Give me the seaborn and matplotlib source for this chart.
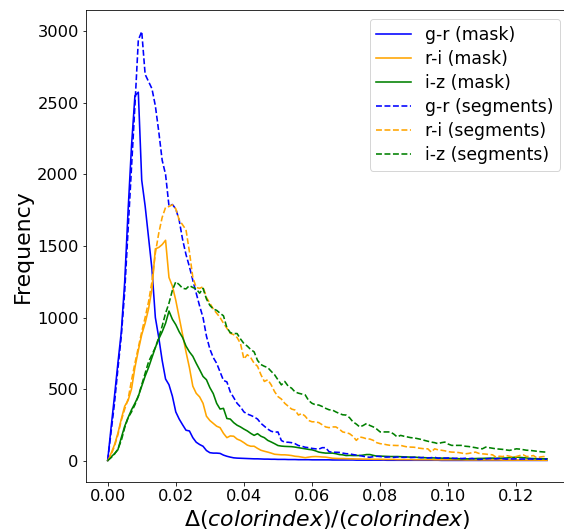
import matplotlib
matplotlib.use("Agg")
import matplotlib.pyplot as plt
import numpy as np
import pandas as pd
import seaborn as sns

# bin positions of the colour-index error histograms
ratio = np.round(np.arange(130) * 0.001, 3)

gr_mask = [
    0, 230, 450, 680, 900, 1250, 1750, 2200, 2550, 2575,
    1960, 1780, 1560, 1340, 1000, 860, 700, 570, 530, 450,
    340, 290, 250, 212, 207, 160, 128, 112, 100, 70,
    55, 52, 52, 50, 38, 30, 24, 19, 17, 16,
    15, 14, 13, 12, 12, 11, 10, 10, 9, 9,
    8, 8, 8, 7, 7, 7, 6, 6, 6, 6,
    5, 5, 5, 5, 5, 5, 4, 4, 4, 4,
    4, 4, 4, 3, 3, 3, 3, 3, 3, 3,
    3, 3, 2, 2, 2, 2, 2, 2, 2, 2,
    2, 2, 2, 2, 2, 2, 2, 2, 1, 1,
    1, 1, 1, 1, 1, 1, 1, 1, 1, 1,
    1, 1, 1, 1, 1, 1, 1, 1, 1, 1,
    1, 1, 1, 1, 1, 1, 1, 1, 1, 1,
]
ri_mask = [
    0, 50, 110, 190, 290, 380, 420, 500, 650, 770,
    880, 960, 1060, 1200, 1480, 1490, 1510, 1540, 1280, 1220,
    1120, 1000, 880, 760, 650, 520, 470, 445, 400, 310,
    280, 260, 240, 230, 190, 160, 172, 170, 150, 140,
    125, 108, 100, 100, 85, 72, 65, 59, 52, 44,
    42, 40, 40, 38, 35, 30, 28, 24, 20, 24,
    27, 28, 27, 25, 24, 20, 16, 15, 14, 14,
    13, 12, 12, 11, 11, 10, 10, 10, 9, 9,
    9, 8, 8, 8, 8, 7, 7, 7, 7, 7,
    6, 6, 6, 6, 6, 6, 5, 5, 5, 5,
    5, 5, 5, 5, 5, 4, 4, 4, 4, 4,
    4, 4, 4, 4, 4, 4, 3, 3, 3, 3,
    3, 3, 3, 3, 3, 3, 3, 2, 2, 2,
]
iz_mask = [
    0, 25, 48, 75, 160, 240, 300, 355, 400, 450,
    520, 590, 650, 720, 790, 850, 900, 960, 1045, 988,
    950, 900, 860, 800, 760, 729, 680, 635, 588, 565,
    510, 468, 400, 360, 365, 294, 290, 265, 247, 235,
    220, 207, 190, 176, 188, 170, 160, 141, 130, 118,
    105, 101, 99, 98, 97, 94, 90, 86, 82, 78,
    75, 68, 59, 55, 52, 52, 52, 48, 42, 40,
    35, 36, 35, 35, 35, 38, 42, 42, 36, 31,
    31, 30, 29, 28, 28, 28, 27, 26, 25, 24,
    24, 22, 21, 20, 19, 19, 18, 17, 17, 16,
    16, 15, 14, 13, 12, 12, 12, 13, 14, 15,
    15, 16, 16, 17, 16, 16, 17, 18, 20, 22,
    24, 22, 20, 18, 15, 14, 13, 12, 12, 12,
]
gr_seg = [
    0, 200, 400, 640, 870, 1180, 1620, 2050, 2480, 2940,
    3000, 2700, 2650, 2600, 2480, 2300, 2100, 2000, 1780, 1790,
    1760, 1680, 1545, 1440, 1356, 1260, 1169, 1080, 1000, 870,
    780, 720, 680, 620, 560, 550, 480, 440, 400, 375,
    340, 325, 316, 305, 290, 260, 240, 220, 205, 198,
    200, 140, 128, 128, 125, 118, 105, 100, 93, 90,
    85, 82, 80, 90, 90, 62, 58, 58, 57, 52,
    48, 47, 42, 38, 35, 30, 25, 23, 27, 30,
    28, 25, 24, 26, 22, 25, 23, 22, 24, 21,
    22, 23, 20, 22, 18, 20, 23, 16, 19, 17,
    18, 16, 15, 17, 14, 16, 13, 15, 10, 8,
    10, 12, 14, 15, 12, 15, 13, 10, 12, 11,
    12, 10, 11, 9, 12, 10, 11, 9, 10, 10,
]
ri_seg = [
    0, 40, 100, 180, 280, 360, 430, 560, 680, 790,
    900, 1000, 1110, 1250, 1450, 1590, 1700, 1770, 1776, 1788,
    1760, 1683, 1648, 1613, 1460, 1280, 1210, 1204, 1215, 1140,
    1100, 1060, 1030, 1000, 960, 925, 890, 880, 860, 818,
    710, 740, 720, 680, 659, 600, 553, 565, 530, 482,
    447, 430, 400, 380, 360, 353, 318, 329, 310, 280,
    271, 271, 265, 250, 235, 230, 235, 235, 220, 200,
    195, 188, 170, 141, 165, 160, 152, 150, 141, 125,
    118, 115, 110, 106, 106, 105, 106, 100, 95, 94,
    93, 88, 85, 82, 82, 59, 82, 75, 72, 68,
    62, 59, 58, 56, 52, 47, 50, 55, 59, 50,
    47, 45, 42, 40, 24, 30, 28, 35, 30, 24,
    28, 35, 40, 28, 30, 35, 19, 25, 28, 24,
]
iz_seg = [
    0, 20, 45, 80, 140, 230, 300, 340, 390, 450,
    530, 610, 690, 740, 790, 860, 940, 1030, 1100, 1190,
    1250, 1230, 1204, 1200, 1223, 1210, 1200, 1170, 1204, 1130,
    1085, 1060, 1050, 1030, 1012, 929, 894, 888, 888, 850,
    818, 800, 776, 760, 700, 671, 659, 650, 624, 600,
    565, 529, 553, 520, 506, 480, 471, 465, 459, 420,
    400, 390, 388, 378, 365, 355, 353, 340, 329, 320,
    318, 300, 271, 255, 235, 245, 259, 245, 235, 220,
    200, 200, 200, 200, 185, 165, 176, 170, 165, 160,
    158, 153, 148, 141, 135, 129, 125, 118, 125, 129,
    115, 106, 106, 106, 106, 100, 98, 94, 90, 85,
    82, 94, 90, 86, 82, 80, 78, 74, 71, 76,
    82, 80, 76, 72, 71, 68, 65, 62, 60, 59,
]

SERIES = [
    ("g-r (mask)", gr_mask, "blue", "-"),
    ("r-i (mask)", ri_mask, "orange", "-"),
    ("i-z (mask)", iz_mask, "green", "-"),
    ("g-r (segments)", gr_seg, "blue", "--"),
    ("r-i (segments)", ri_seg, "orange", "--"),
    ("i-z (segments)", iz_seg, "green", "--"),
]


def main() -> None:
    fig = plt.figure(figsize=(564 / 72, 532 / 72), dpi=72)
    ax = fig.add_axes([85.7 / 564, 50 / 532, 483.3 / 564, 472 / 532])

    for label, values, color, ls in SERIES:
        df = pd.DataFrame({"ratio": ratio, "count": values})
        sns.lineplot(data=df, x="ratio", y="count", color=color,
                     linestyle=ls, linewidth=1.6, label=label, ax=ax)

    ax.set_xticks([0.0, 0.02, 0.04, 0.06, 0.08, 0.10, 0.12])
    ax.set_xticklabels(["0.00", "0.02", "0.04", "0.06", "0.08", "0.10", "0.12"])
    ax.set_yticks([0, 500, 1000, 1500, 2000, 2500, 3000])
    ax.tick_params(labelsize=16.3)
    ax.set_xlabel(r"$\Delta(colorindex)/(colorindex)$", fontsize=22)
    ax.set_ylabel("Frequency", fontsize=22)
    ax.legend(loc="upper right", fontsize=17.3, labelspacing=0.35)

    fig.savefig("out.png", dpi=72)
    plt.close(fig)


if __name__ == "__main__":
    main()
